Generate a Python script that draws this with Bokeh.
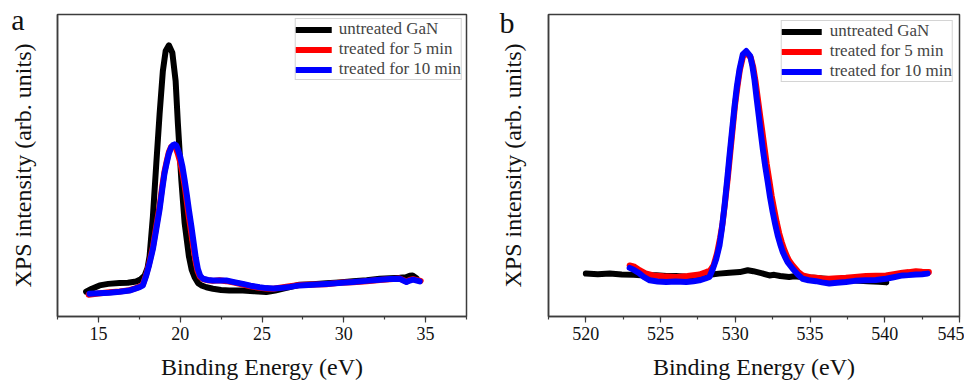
from bokeh.plotting import figure
from bokeh.layouts import row
from bokeh.models import (Range1d, SingleIntervalTicker, FixedTicker, Legend, LegendItem,
                          PrintfTickFormatter)
from bokeh.embed import file_html
from bokeh.resources import INLINE

# ---------------- data: panel a (valence band region) ----------------
a_black_x = [14.25, 14.6, 15.07, 15.6, 16.29, 16.8, 17.31, 17.6, 17.82, 18.0, 18.13, 18.33, 18.54, 18.74,
             18.94, 19.11, 19.31, 19.52, 19.72, 19.86, 20.07, 20.27, 20.53, 20.7, 20.88, 21.1, 21.29,
             21.6, 22.0, 22.5, 23.0, 23.83, 24.5, 25.26, 25.8, 26.5, 27.3, 28.1, 28.93, 29.7, 30.56,
             31.4, 32.2, 32.8, 33.42, 33.8, 34.03, 34.2, 34.44]
a_black_y = [0.082, 0.092, 0.103, 0.108, 0.111, 0.112, 0.116, 0.124, 0.135, 0.16, 0.20, 0.33, 0.507, 0.67,
             0.813, 0.879, 0.898, 0.873, 0.78, 0.638, 0.452, 0.31, 0.20, 0.155, 0.13, 0.11, 0.103,
             0.097, 0.092, 0.088, 0.086, 0.086, 0.084, 0.081, 0.086, 0.095, 0.105, 0.107, 0.11, 0.113, 0.117,
             0.12, 0.125, 0.127, 0.128, 0.13, 0.135, 0.136, 0.127]

a_red_x = [14.4, 15.0, 15.68, 16.3, 16.9, 17.3, 17.52, 17.72, 17.92, 18.1, 18.33, 18.54, 18.74, 18.9,
           19.04, 19.18, 19.31, 19.45, 19.6, 19.72, 19.85, 19.98, 20.12, 20.25, 20.38, 20.5, 20.65,
           20.8, 20.93, 21.06, 21.2, 21.39, 21.7, 22.0, 22.4, 22.82, 23.3, 23.83, 24.3, 24.85, 25.26,
           25.7, 26.08, 26.7, 27.3, 28.1, 28.93, 29.7, 30.56, 31.4, 32.2, 32.8, 33.42, 33.83, 34.03,
           34.23, 34.7]
a_red_y = [0.072, 0.076, 0.08, 0.083, 0.087, 0.094, 0.099, 0.106, 0.138, 0.175, 0.23, 0.30, 0.365, 0.43,
           0.48, 0.515, 0.545, 0.562, 0.565, 0.56, 0.54, 0.515, 0.48, 0.44, 0.39, 0.34, 0.285,
           0.23, 0.185, 0.15, 0.132, 0.124, 0.12, 0.118, 0.12, 0.117, 0.112, 0.106, 0.1, 0.095, 0.093,
           0.092, 0.095, 0.1, 0.104, 0.106, 0.107, 0.112, 0.113, 0.117, 0.121, 0.123, 0.126, 0.116, 0.121,
           0.124, 0.118]

a_blue_x = [14.46, 15.0, 15.68, 16.3, 16.9, 17.3, 17.52, 17.72, 17.92, 18.1, 18.33, 18.54, 18.74, 18.9,
            19.04, 19.18, 19.31, 19.45, 19.55, 19.66, 19.76, 19.88, 20.0, 20.14, 20.27, 20.4, 20.53,
            20.68, 20.82, 20.95, 21.08, 21.22, 21.39, 21.7, 22.0, 22.4, 22.82, 23.3, 23.83, 24.3, 24.85,
            25.26, 25.7, 26.08, 26.7, 27.3, 28.1, 28.93, 29.7, 30.56, 31.4, 32.2, 32.8, 33.42, 33.83,
            34.03, 34.23, 34.64]
a_blue_y = [0.075, 0.077, 0.079, 0.082, 0.086, 0.093, 0.097, 0.103, 0.135, 0.17, 0.223, 0.29, 0.354, 0.42,
            0.474, 0.51, 0.54, 0.56, 0.567, 0.57, 0.567, 0.55, 0.529, 0.495, 0.452, 0.405, 0.354,
            0.30, 0.245, 0.195, 0.157, 0.135, 0.125, 0.121, 0.119, 0.119, 0.119, 0.114, 0.108, 0.102, 0.097,
            0.094, 0.093, 0.094, 0.098, 0.103, 0.105, 0.108, 0.111, 0.114, 0.118, 0.122, 0.124, 0.125, 0.114,
            0.119, 0.122, 0.116]

# ---------------- data: panel b (O 1s region) ----------------
b_black_x = [520.0, 520.8, 521.6, 522.4, 523.2, 523.9, 524.7, 525.4, 526.05, 526.94, 527.6, 528.3, 528.9,
             529.6, 530.3, 530.83, 531.2, 531.8, 532.28, 532.6, 533.0, 533.6, 533.95, 534.6, 535.28,
             536.2, 537.07, 538.0, 538.85, 539.6, 540.1]
b_black_y = [0.142, 0.14, 0.142, 0.139, 0.138, 0.136, 0.137, 0.134, 0.134, 0.131, 0.136, 0.138, 0.142,
             0.145, 0.147, 0.153, 0.15, 0.143, 0.136, 0.138, 0.134, 0.131, 0.133, 0.13, 0.128,
             0.124, 0.12, 0.119, 0.117, 0.115, 0.113]

b_red_x = [522.93, 523.2, 523.6, 524.0, 524.5, 525.2, 526.05, 526.8, 527.6, 528.05, 528.3, 528.55, 528.78,
           528.98, 529.15, 529.32, 529.5, 529.66, 529.82, 529.98, 530.14, 530.3, 530.52, 530.78, 531.04,
           531.2, 531.35, 531.5, 531.66, 531.8, 531.95, 532.1, 532.27, 532.43, 532.6, 532.77, 532.94,
           533.1, 533.27, 533.45, 533.6, 533.84, 534.2, 534.5, 535.0, 535.4, 535.8, 536.29, 536.8, 537.4,
           538.0, 538.74, 539.4, 540.08, 540.6, 541.19, 541.6, 542.08, 542.5, 542.95]
b_red_y = [0.169, 0.166, 0.153, 0.143, 0.136, 0.133, 0.131, 0.134, 0.139, 0.147, 0.152, 0.17, 0.21,
           0.26, 0.31, 0.38, 0.46, 0.54, 0.62, 0.70, 0.76, 0.815, 0.862, 0.872, 0.856,
           0.825, 0.78, 0.725, 0.665, 0.615, 0.56, 0.505, 0.452, 0.40, 0.355, 0.312, 0.275,
           0.247, 0.222, 0.2, 0.185, 0.169, 0.148, 0.136, 0.13, 0.128, 0.126, 0.125, 0.127, 0.128,
           0.131, 0.134, 0.135, 0.136, 0.14, 0.145, 0.147, 0.15, 0.148, 0.147]

b_blue_x = [522.93, 523.2, 523.6, 523.9, 524.27, 524.8, 525.38, 526.0, 526.72, 527.2, 527.6, 528.0, 528.27,
            528.5, 528.72, 528.94, 529.1, 529.28, 529.45, 529.61, 529.78, 529.95, 530.1, 530.28, 530.5,
            530.73, 531.0, 531.14, 531.28, 531.42, 531.57, 531.7, 531.84, 532.0, 532.17, 532.33, 532.5,
            532.67, 532.84, 533.0, 533.17, 533.35, 533.5, 533.84, 534.2, 534.5, 534.9, 535.4, 535.8,
            536.29, 536.8, 537.4, 538.0, 538.74, 539.4, 540.08, 540.6, 541.19, 541.6, 542.08, 542.5, 542.86]
b_blue_y = [0.161, 0.155, 0.142, 0.13, 0.12, 0.116, 0.114, 0.116, 0.114, 0.117, 0.12, 0.126, 0.131,
            0.158, 0.19, 0.235, 0.29, 0.367, 0.45, 0.532, 0.615, 0.697, 0.76, 0.818, 0.868,
            0.879, 0.862, 0.83, 0.785, 0.725, 0.664, 0.61, 0.554, 0.498, 0.445, 0.393, 0.346,
            0.305, 0.268, 0.24, 0.214, 0.195, 0.18, 0.158, 0.138, 0.125, 0.12, 0.117, 0.113,
            0.109, 0.112, 0.114, 0.118, 0.12, 0.121, 0.125, 0.13, 0.136, 0.137, 0.139, 0.14, 0.142]

series_names = ["untreated GaN", "treated for 5 min", "treated for 10 min"]
series_colors = ["#000000", "#ff0000", "#0000ff"]
panel_letters = ["a", "b"]

FONT = "Liberation Serif"
FRAME = "#3c3c3c"


def make_panel(xr, ticker_step, data, letter, width, height, borders, legend_margin,
               letter_tick, letter_standoff, ylabel_standoff, glyph_w, label_gap):
    bl, br, bt, bb = borders
    p = figure(width=width, height=height, output_backend="svg", toolbar_location=None,
               x_range=Range1d(*xr), y_range=Range1d(0, 1),
               min_border_left=bl, min_border_right=br, min_border_top=bt, min_border_bottom=bb)
    p.xgrid.visible = False
    p.ygrid.visible = False
    p.outline_line_color = FRAME
    p.outline_line_width = 1.5
    p.background_fill_color = "white"
    p.border_fill_color = "white"

    items = []
    for (xs, ys), name, col in zip(data, series_names, series_colors):
        r = p.line(xs, ys, line_color=col, line_width=6, line_join="round", line_cap="round")
        items.append(LegendItem(label=name, renderers=[r]))

    leg = Legend(items=items, location="top_right", margin=legend_margin,
                 label_text_font=FONT, label_text_font_size="17px",
                 label_height=17, glyph_height=17, glyph_width=glyph_w, label_standoff=label_gap,
                 spacing=0, padding=0,
                 border_line_color="#aaaaaa", border_line_width=1.5,
                 background_fill_color="white", background_fill_alpha=1)
    p.add_layout(leg, "center")

    xa = p.xaxis[0]
    xa.ticker = SingleIntervalTicker(interval=ticker_step, num_minor_ticks=2)
    xa.axis_line_color = FRAME
    xa.axis_line_width = 1.5
    xa.major_tick_line_color = FRAME
    xa.minor_tick_line_color = FRAME
    xa.major_tick_line_width = 1.2
    xa.minor_tick_line_width = 1.2
    xa.major_tick_in = 0
    xa.major_tick_out = 6
    xa.minor_tick_in = 0
    xa.minor_tick_out = 3
    xa.major_label_text_font = FONT
    xa.major_label_text_font_size = "18px"
    xa.major_label_text_color = "#111111"
    xa.major_label_standoff = 4
    xa.axis_label = "Binding Energy (eV)"
    xa.axis_label_text_font = FONT
    xa.axis_label_text_font_size = "24px"
    xa.axis_label_text_font_style = "normal"
    xa.axis_label_text_color = "#111111"
    xa.axis_label_standoff = 11

    # y axis: no ticks; the panel letter is drawn as the single (horizontal) tick label at the top
    ya = p.yaxis[0]
    ya.ticker = FixedTicker(ticks=[letter_tick])
    ya.formatter = PrintfTickFormatter(format=letter)
    ya.axis_line_color = FRAME
    ya.axis_line_width = 1.5
    ya.major_tick_line_color = None
    ya.minor_tick_line_color = None
    ya.major_tick_out = 0
    ya.major_tick_in = 0
    ya.major_label_orientation = "horizontal"
    ya.major_label_text_font = FONT
    ya.major_label_text_font_size = "30px"
    ya.major_label_text_color = "#111111"
    ya.major_label_standoff = letter_standoff
    ya.axis_label = "XPS intensity (arb. units)"
    ya.axis_label_text_font = FONT
    ya.axis_label_text_font_size = "24px"
    ya.axis_label_text_font_style = "normal"
    ya.axis_label_text_color = "#111111"
    ya.axis_label_standoff = ylabel_standoff
    return p


pa = make_panel((12.5, 37.5), 5,
                [(a_black_x, a_black_y), (a_red_x, a_red_y), (a_blue_x, a_blue_y)],
                panel_letters[0], 489, 382, (57, 23, 12, 65), 4, 0.982, 33, -28, 36, 7)
pb = make_panel((517.5, 545), 5,
                [(b_black_x, b_black_y), (b_red_x, b_red_y), (b_blue_x, b_blue_y)],
                panel_letters[1], 475, 382, (59, 5, 14, 65), 6, 0.975, 34, -29, 40, 8)

layout = row(pa, pb)
open("out.html", "w").write(file_html(layout, INLINE))
